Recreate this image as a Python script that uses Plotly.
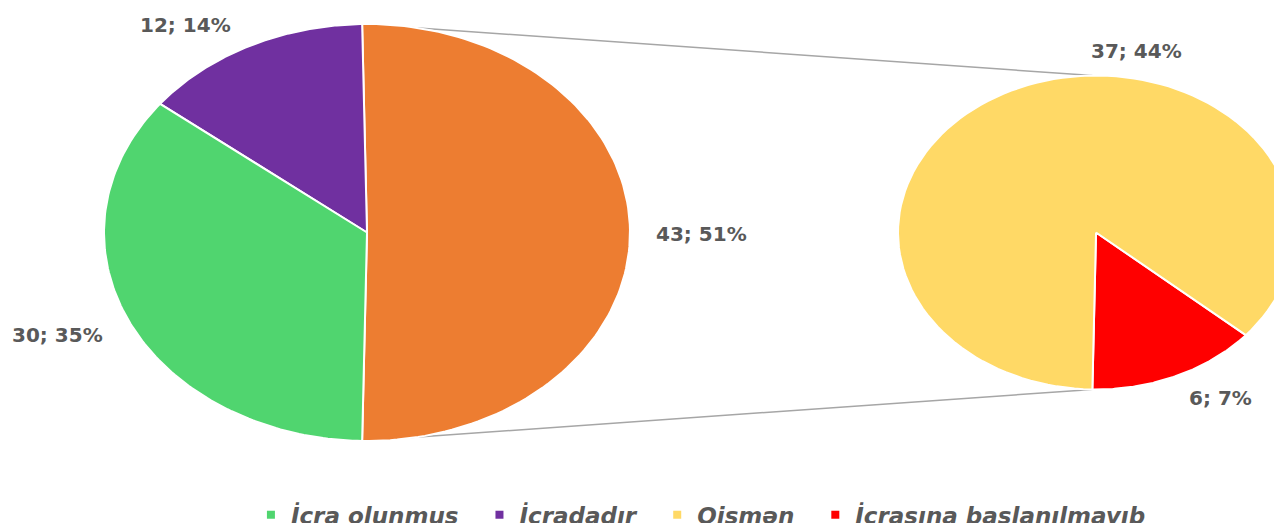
import numpy as np
import plotly.graph_objects as go

# ---------------- data ----------------
main_names = ["Digər", "İcradadır", "İcra olunmuş"]      # first slice = aggregated "other" slice
main_values = [43, 12, 30]
sec_names = ["İcrasına başlanılmayıb", "Qismən"]
sec_values = [6, 37]
legend_names = ["İcra olunmuş", "İcradadır", "Qismən", "İcrasına başlanılmayıb"]

# ---------------- style ----------------
main_colors = ["#ED7D31", "#7030A0", "#50D56F"]
sec_colors = ["#FF0000", "#FFD966"]
legend_colors = {"İcra olunmuş": "#50D56F", "İcradadır": "#7030A0",
                 "Qismən": "#FFD966", "İcrasına başlanılmayıb": "#FF0000"}
label_color = "#595959"
W, H = 1282, 523

# geometry (data units: main pie radius = 1)
C1 = (0.0, 0.0); R1 = 1.0
C2 = (2.772, 0.0); R2 = 0.753
XR = [-1.365, 3.5095]
YR = [-1.4317, 1.0767]

total = sum(main_values)
half = 180.0 * main_values[0] / total  # "other" slice centred at 3 o'clock


def wedge(c, r, a0, a1, n=120):
    t = np.radians(np.linspace(a0, a1, n))
    xs = np.concatenate([[c[0]], c[0] + r * np.cos(t), [c[0]]])
    ys = np.concatenate([[c[1]], c[1] + r * np.sin(t), [c[1]]])
    return xs, ys


def pt(c, r, a):
    a = np.radians(a)
    return c[0] + r * np.cos(a), c[1] + r * np.sin(a)


fig = go.Figure()

# connector lines (behind)
for a in (half, -half):
    p1 = pt(C1, R1, a)
    p2 = pt(C2, R2, a)
    fig.add_trace(go.Scatter(x=[p1[0], p2[0]], y=[p1[1], p2[1]], mode="lines",
                             line=dict(color="#A6A6A6", width=1.5),
                             showlegend=False, hoverinfo="skip"))

# main pie slices
a = -half
angles = []
for v in main_values:
    span = 360.0 * v / total
    angles.append((a, a + span))
    a += span
main_mid = []
for (a0, a1), col, name in zip(angles, main_colors, main_names):
    xs, ys = wedge(C1, R1, a0, a1)
    fig.add_trace(go.Scatter(x=xs, y=ys, mode="lines", fill="toself", fillcolor=col,
                             line=dict(color="white", width=2), name=name,
                             showlegend=False, hoverinfo="name"))
    main_mid.append((a0 + a1) / 2)

# secondary pie slices
sec_total = sum(sec_values)
a = -half
sec_angles = []
for v in sec_values:
    span = 360.0 * v / sec_total
    sec_angles.append((a, a + span))
    a += span
sec_mid = []
for (a0, a1), col, name in zip(sec_angles, sec_colors, sec_names):
    xs, ys = wedge(C2, R2, a0, a1)
    fig.add_trace(go.Scatter(x=xs, y=ys, mode="lines", fill="toself", fillcolor=col,
                             line=dict(color="white", width=2), name=name,
                             showlegend=False, hoverinfo="name"))
    sec_mid.append((a0 + a1) / 2)

# legend entries
pad = "\u00a0" * 2
for i, nm in enumerate(legend_names):
    shown = nm + (pad if i < len(legend_names) - 1 else "")
    fig.add_trace(go.Scatter(x=[None], y=[None], mode="markers", name=shown,
                             marker=dict(symbol="square", size=8, color=legend_colors[nm])))

# data labels (at slice edge + pixel offsets)
label_shift = {"Digər": (71, -2), "İcradadır": (-64, 21), "İcra olunmuş": (-72, -13),
               "Qismən": (121, 38), "İcrasına başlanılmayıb": (44, -22)}
lab_font = dict(family="DejaVu Sans", size=20, color=label_color, weight="bold")
for v, m, nm in zip(main_values, main_mid, main_names):
    x, y = pt(C1, R1, m)
    dx, dy = label_shift[nm]
    fig.add_annotation(x=x, y=y, text=f"{v}; {round(100 * v / total)}%", showarrow=False,
                       xshift=dx, yshift=dy, font=lab_font)
for v, m, nm in zip(sec_values, sec_mid, sec_names):
    x, y = pt(C2, R2, m)
    dx, dy = label_shift[nm]
    fig.add_annotation(x=x, y=y, text=f"{v}; {round(100 * v / total)}%", showarrow=False,
                       xshift=dx, yshift=dy, font=lab_font)

fig.update_layout(
    width=W, height=H,
    margin=dict(l=0, r=0, t=0, b=0, autoexpand=False),
    paper_bgcolor="white", plot_bgcolor="white",
    xaxis=dict(range=XR, visible=False, fixedrange=True, domain=[0, 1]),
    yaxis=dict(range=YR, visible=False, fixedrange=True, domain=[0, 1]),
    legend=dict(orientation="h", x=0.5405, xanchor="center", y=0.031, yanchor="middle",
                font=dict(family="DejaVu Sans", size=23, color=label_color,
                          weight="bold", style="italic"),
                bgcolor="rgba(0,0,0,0)", itemclick=False, itemdoubleclick=False),
    showlegend=True,
)

fig.write_html("out.html")
